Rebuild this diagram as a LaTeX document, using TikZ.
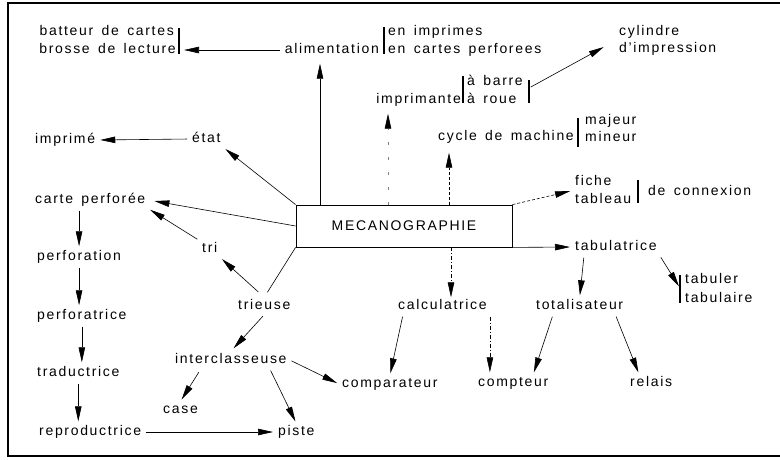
\documentclass[tikz,border=0pt]{standalone}
\usepackage{fontspec}
\setmainfont{Liberation Sans}[LetterSpace=12,WordSpace=1.5]
\usetikzlibrary{arrows.meta}

\begin{document}
\begin{tikzpicture}[
    x=1pt,y=-1pt,
    every node/.style={font=\fontsize{14}{16}\selectfont},
    word/.style={anchor=west, inner xsep=3pt, inner ysep=2pt, text height=10pt, text depth=3pt},
    rword/.style={word, anchor=east},
    hub/.style={draw, line width=0.8pt, minimum width=216pt, minimum height=42pt, inner sep=0pt},
    link/.style={-{Triangle[length=15pt,width=6.5pt,color=black]}, line width=0.6pt, shorten <=2pt, shorten >=2pt},
    dashlink/.style={link, dash pattern=on 3pt off 2pt},
    dotlink/.style={link, dash pattern=on 4pt off 2pt on 1pt off 2pt},
    faint/.style={link, draw=black!50, dash pattern=on 3pt off 12pt},
    bar/.style={line width=1.3pt},
    frame/.style={line width=1.1pt}
]
    \useasboundingbox (0,0) rectangle (780,459);
    \draw[frame] (780,3) -- (8,3) -- (8,456) -- (780,456);

    % words ending on a bar
    \foreach \nm/\x/\y/\lbl in {
        batteur/177/32/batteur de cartes, brosse/179/50/brosse de lecture,
        alim/382/50/alimentation, imprimante/464/100/imprimante,
        cycle/577/137/cycle de machine} {
        \node[rword] (\nm) at (\x,\y) {\lbl};
    }

    % other words of the map
    \foreach \nm/\x/\y/\lbl in {
        enimpr/385/32/en imprimes, encartes/385/50/en cartes perforees,
        cyl/616/32/cylindre, dimpr/616/49/d'impression,
        abarre/464/82/à barre, aroue/464/100/à roue,
        majeur/582/121/majeur, mineur/582/138/mineur,
        fiche/572/182/fiche, tableau/572/200/tableau, connexion/645/192/de connexion,
        imprime/32/140/imprimé, etat/189/139/état, carte/32/200/carte perforée,
        tri/199/249/tri, perforation/34/257/perforation, trieuse/235/306/trieuse,
        perforatrice/34/316/perforatrice, calc/395/306/calculatrice,
        totalis/533/306/totalisateur, tabulatrice/572/247/tabulatrice,
        tabuler/682/280/tabuler, tabulaire/682/299/tabulaire,
        inter/172/360/interclasseuse, traductrice/34/373/traductrice,
        comparateur/339/384/comparateur, compteur/475/383/compteur,
        relais/627/383/relais, case/160/410/case,
        reproductrice/36/432/reproductrice, piste/275/432/piste} {
        \node[word] (\nm) at (\x,\y) {\lbl};
    }

    \node[hub] (meca) at (404,226) {MECANOGRAPHIE};

    % bars
    \draw[bar] (179,28) -- (179,54);
    \draw[bar] (384,27) -- (384,54);
    \draw[bar] (463,76) -- (463,103);
    \draw[bar] (529,80) -- (529,103);
    \draw[bar] (578,118) -- (578,147);
    \draw[bar] (638,180) -- (638,203);
    \draw[bar] (680,275) -- (680,303);

    \coordinate (lectbar) at (179,50);
    \coordinate (rouebar) at (529,88);
    \coordinate (tabbar) at (680,288);
    \coordinate (mecaA) at (320,205);
    \coordinate (mecaB) at (388,205);
    \coordinate (mecaC) at (449,205);
    \coordinate (mecaD) at (451,247);

    % top half
    \draw[link, shorten >=5pt] (alim.west) -- (lectbar);
    \draw[link, shorten <=0pt, shorten >=5pt] (mecaA) -- (mecaA |- alim.south);
    \draw[link, shorten >=14pt] (rouebar) -- (dimpr.north west);
    \draw[faint, shorten <=0pt, shorten >=5pt] (mecaB) -- (mecaB |- imprimante.south);
    \draw[dashlink, shorten <=0pt, shorten >=7pt] (mecaC) -- (mecaC |- cycle.south);
    \draw[dashlink, shorten <=0pt] (meca.north east) -- (fiche.south west);
    \draw[link, shorten <=0pt] (meca.south east) -- (tabulatrice.west);
    \draw[link, shorten <=0pt] (meca.north west) -- (etat.south east);
    \draw[link] (etat.west) -- (imprime.east);
    \draw[link, shorten <=0pt, shorten >=6pt] (meca.west) -- (carte.east);
    \draw[link] (tri.north west) -- (carte.south east);

    % left column
    \draw[link] (carte.south -| perforation.north) -- (perforation.north);
    \draw[link] (perforation.south) -- (perforation.south |- perforatrice.north);
    \draw[link] (perforatrice.south) -- (perforatrice.south |- traductrice.north);
    \draw[link] (traductrice.south) -- (traductrice.south |- reproductrice.north);
    \draw[link] (reproductrice.east) -- (piste.west);

    % sorting machines
    \draw[line width=0.6pt, shorten >=6pt] (meca.south west) -- (trieuse.north);
    \draw[link, shorten <=8pt] (trieuse.north) -- (tri.south east);
    \draw[link, shorten >=4pt] (trieuse.south) -- (inter.north);
    \draw[link, shorten <=4pt] (case.north east |- inter.south) -- (case.north);
    \draw[link] ([xshift=-20pt]inter.south east) -- (piste.north);
    \draw[link] (inter.east) -- (comparateur.west);

    % counting machines
    \draw[dotlink, shorten <=0pt, shorten >=0pt] (mecaD) -- (mecaD |- calc.north);
    \draw[link] ([xshift=8pt]calc.south west) -- (comparateur.north);
    \draw[dotlink] (calc.south east) -- (calc.south east |- compteur.north);
    \draw[link] ([xshift=12pt]tabulatrice.south west) -- (totalis.north);
    \draw[link] (tabulatrice.south east) -- (tabbar);
    \draw[link] ([xshift=20pt]totalis.south west) -- ([xshift=20pt]compteur.north);
    \draw[link] ([xshift=-11pt]totalis.south east) -- ([xshift=-12pt]relais.north);
\end{tikzpicture}
\end{document}
